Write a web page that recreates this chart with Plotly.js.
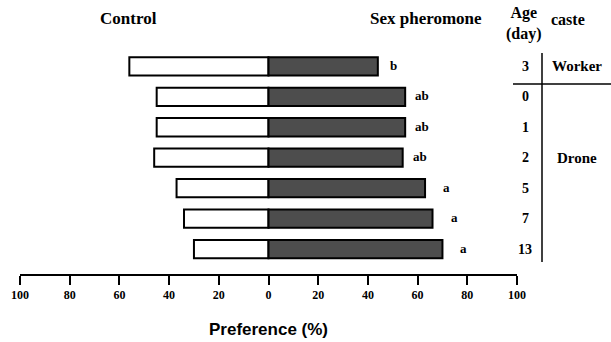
<!DOCTYPE html>
<html>
<head>
<meta charset="utf-8">
<script src="https://cdn.plot.ly/plotly-3.0.1.min.js"></script>
<style>html,body{margin:0;padding:0;background:#fff;}#chart{width:611px;height:342px;}</style>
</head>
<body>
<div id="chart"></div>
<script>
// Data (top row first)
const ages = ["3", "0", "1", "2", "5", "7", "13"];
const castes = ["Worker", "Drone", "Drone", "Drone", "Drone", "Drone", "Drone"];
const controlPct = [56, 45, 45, 46, 37, 34, 30];
const pheromonePct = [44, 55, 55, 54, 63, 66, 70];
const sigLetters = ["b", "ab", "ab", "ab", "a", "a", "a"];
const tickValues = [-100, -80, -60, -40, -20, 0, 20, 40, 60, 80, 100];
const tickLabels = ["100", "80", "60", "40", "20", "0", "20", "40", "60", "80", "100"];

const n = ages.length;
const rowPos = ages.map((_, i) => n - 1 - i);

const serif = "'Liberation Serif', 'Times New Roman', serif";
const sans = "'Liberation Sans', Arial, sans-serif";

const traces = [
  {
    type: "bar", orientation: "h",
    x: controlPct.map(v => -v), y: rowPos, width: 0.6,
    marker: {color: "#ffffff", line: {color: "#000000", width: 2}},
    hoverinfo: "skip", showlegend: false
  },
  {
    type: "bar", orientation: "h",
    x: pheromonePct, y: rowPos, width: 0.6,
    marker: {color: "#4d4d4d", line: {color: "#000000", width: 2}},
    hoverinfo: "skip", showlegend: false
  }
];

// paper coordinate helpers (plot area: x 20..517 px, y 42..274 px)
const L = 20, R = 94, T = 42, B = 68, W = 611, H = 342;
const pw = W - L - R, ph = H - T - B;
const px = p => (p - L) / pw;
const py = q => (H - B - q) / ph;

// label offset (pixels) by letter group, styling only
const letterGap = {"b": 10, "ab": 8, "a": 16};

const annotations = [];
sigLetters.forEach((t, i) => {
  annotations.push({x: pheromonePct[i], y: rowPos[i], xref: "x", yref: "y", text: t,
    showarrow: false, xanchor: "left", yanchor: "middle", xshift: letterGap[t], yshift: 1,
    font: {family: serif, size: 13, color: "#000", weight: "bold"}});
  annotations.push({x: px(525), y: rowPos[i], xref: "paper", yref: "y", text: ages[i],
    showarrow: false, xanchor: "center", yanchor: "middle",
    font: {family: serif, size: 14, color: "#000", weight: "bold"}});
});
// caste labels
const cf = {family: serif, size: 15, color: "#000", weight: "bold"};
annotations.push({x: px(577), y: rowPos[0], xref: "paper", yref: "y", text: castes[0],
  showarrow: false, xanchor: "center", yanchor: "middle", font: cf});
annotations.push({x: px(577), y: rowPos[3], xref: "paper", yref: "y", text: castes[3],
  showarrow: false, xanchor: "center", yanchor: "middle", font: cf});
// headers
const hdr = {family: serif, size: 17, color: "#000", weight: "bold"};
annotations.push({x: px(128), y: py(18), xref: "paper", yref: "paper", text: "Control", showarrow: false,
  xanchor: "center", yanchor: "middle", font: hdr});
annotations.push({x: px(426), y: py(18), xref: "paper", yref: "paper", text: "Sex pheromone", showarrow: false,
  xanchor: "center", yanchor: "middle", font: hdr});
annotations.push({x: px(524), y: py(23), xref: "paper", yref: "paper", text: "Age<br>(day)", showarrow: false,
  xanchor: "center", yanchor: "middle", font: {family: serif, size: 16, color: "#000", weight: "bold"}});
annotations.push({x: px(568), y: py(20), xref: "paper", yref: "paper", text: "caste", showarrow: false,
  xanchor: "center", yanchor: "middle", font: {family: serif, size: 16, color: "#000", weight: "bold"}});

const shapes = [
  {type: "line", xref: "paper", yref: "paper", x0: px(542), x1: px(542), y0: py(53), y1: py(262),
    line: {color: "#000", width: 1.5}},
  {type: "line", xref: "paper", yref: "paper", x0: px(513), x1: px(611), y0: py(84), y1: py(84),
    line: {color: "#000", width: 1.5}}
];

const layout = {
  width: W, height: H,
  margin: {l: L, r: R, t: T, b: B, pad: 0},
  paper_bgcolor: "#fff", plot_bgcolor: "#fff",
  barmode: "relative", bargap: 0.4,
  showlegend: false,
  xaxis: {
    range: [-100, 100], tickmode: "array", tickvals: tickValues, ticktext: tickLabels,
    showline: true, linecolor: "#000", linewidth: 2, mirror: false,
    ticks: "outside", ticklen: 9, tickwidth: 2, tickcolor: "#000",
    showgrid: false, zeroline: false, fixedrange: true,
    tickfont: {family: serif, size: 12, color: "#000", weight: "bold"},
    title: {text: "Preference (%)", standoff: 22, font: {family: sans, size: 17, color: "#000", weight: "bold"}}
  },
  yaxis: {range: [-0.82, 6.8], visible: false, fixedrange: true},
  annotations: annotations,
  shapes: shapes
};

Plotly.newPlot("chart", traces, layout, {staticPlot: true, displayModeBar: false});
</script>
</body>
</html>
